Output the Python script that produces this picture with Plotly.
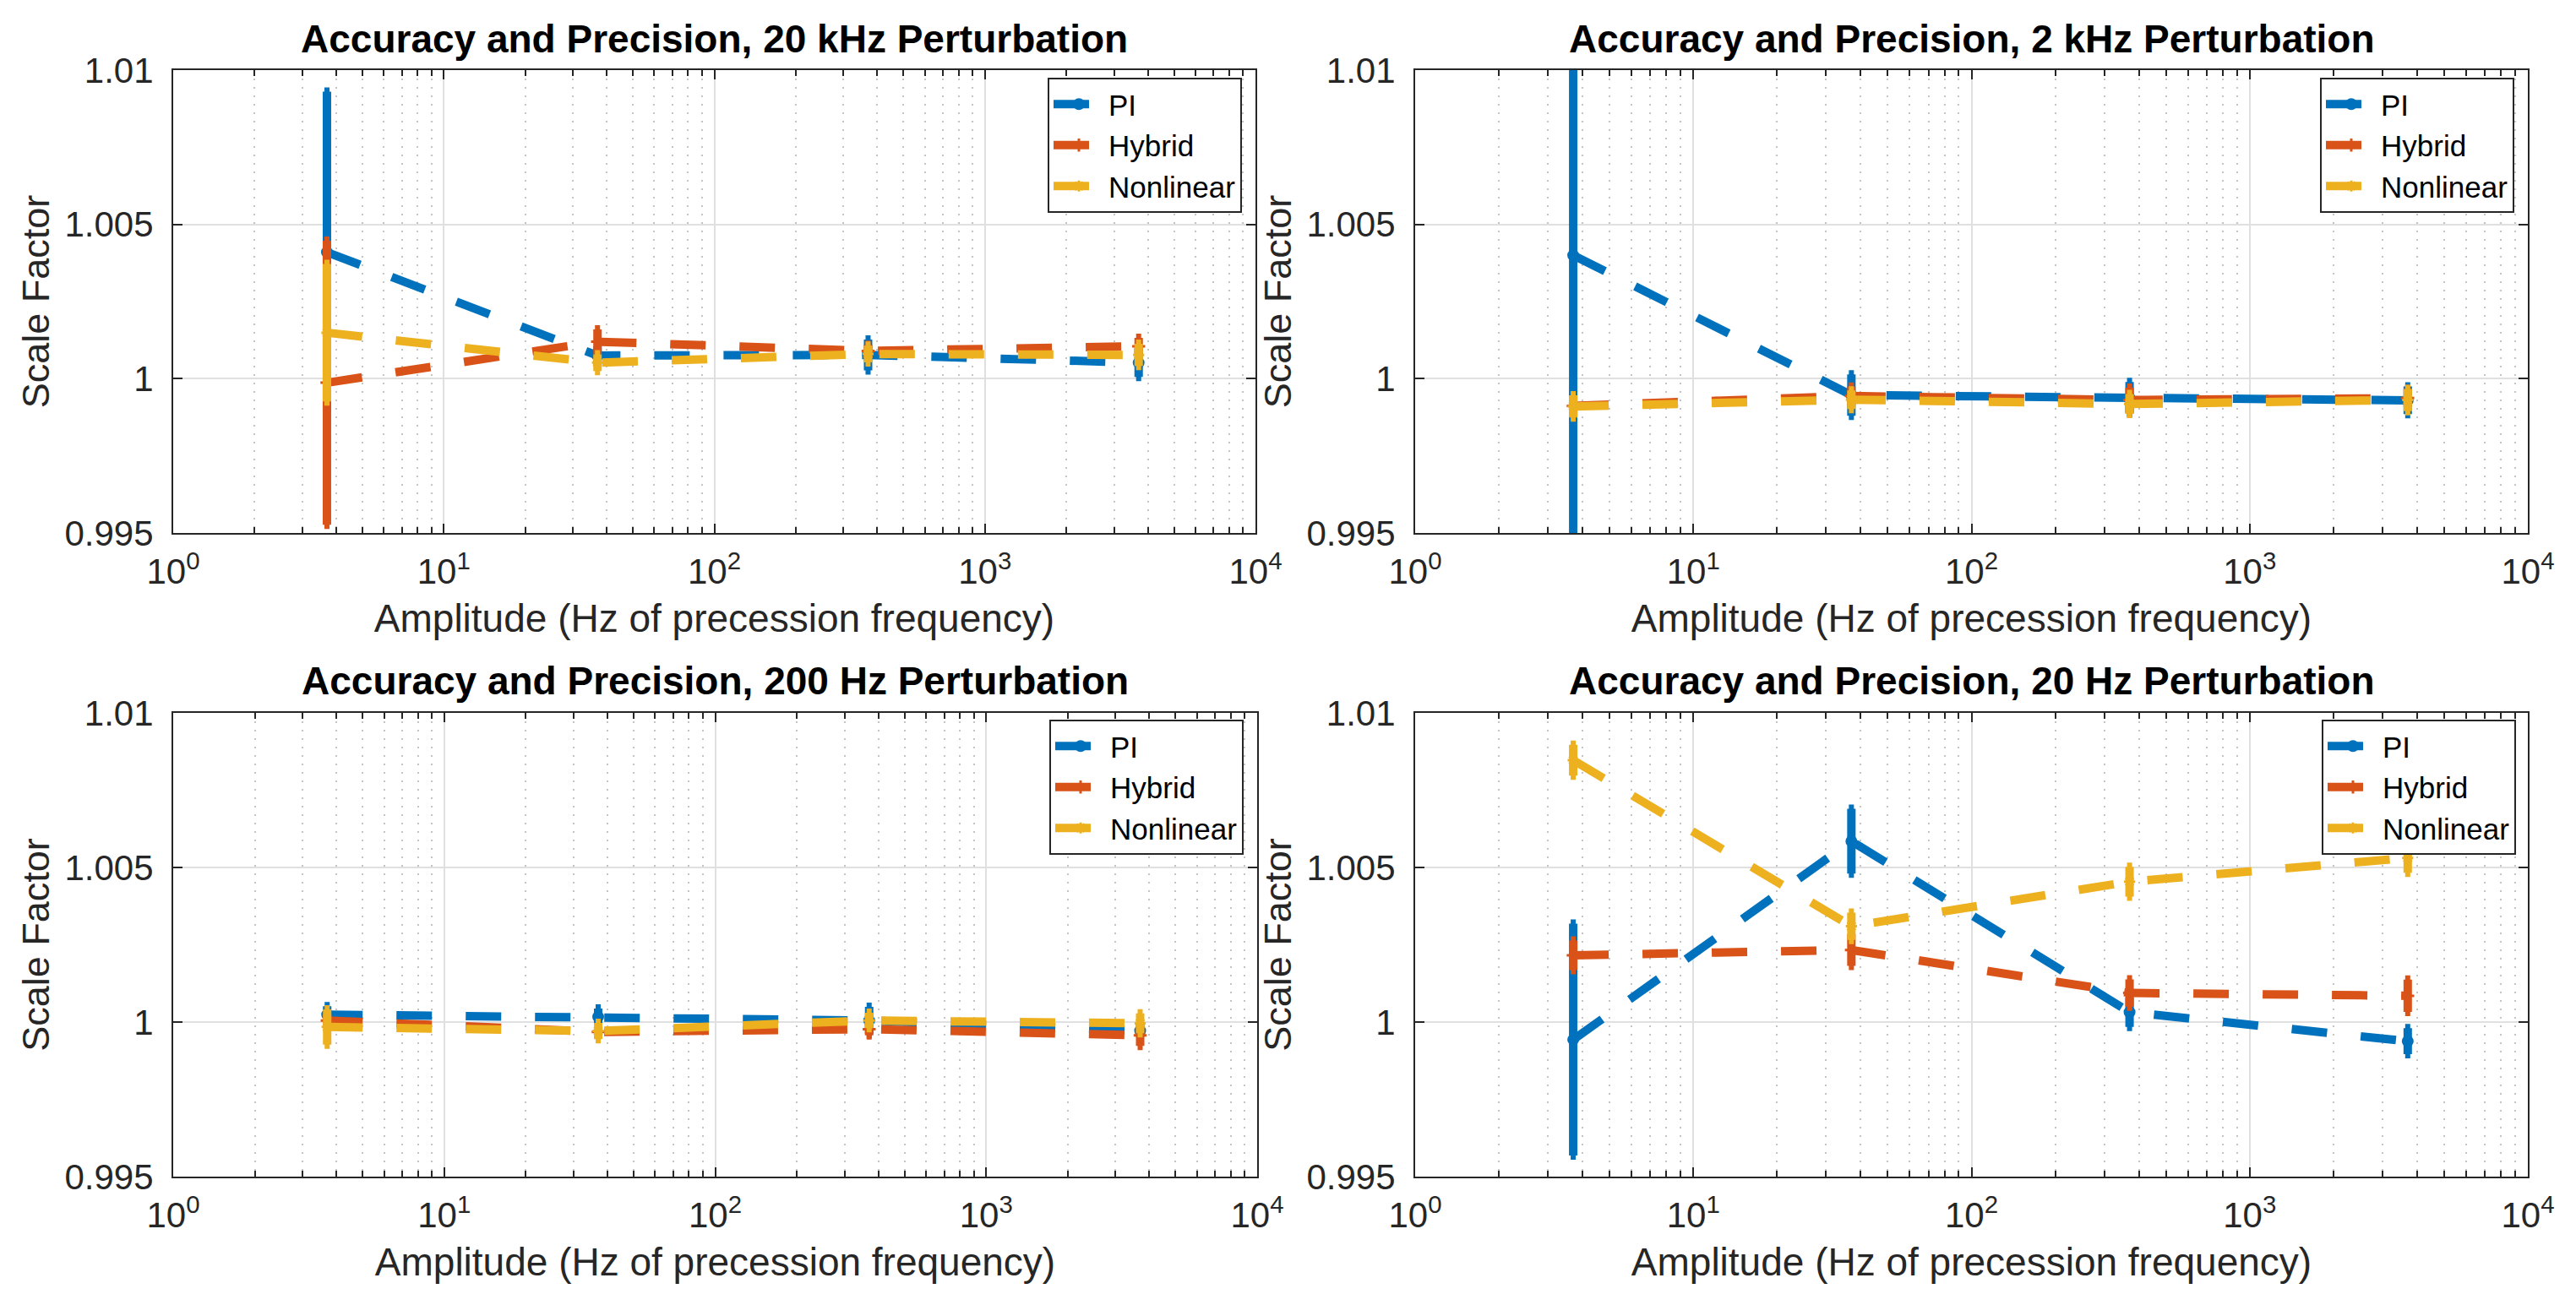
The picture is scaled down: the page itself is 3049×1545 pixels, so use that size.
import plotly.graph_objects as go

# ---------------- data ----------------
amplitude = [3.7, 37, 370, 3700]

panel_titles = [
    "Accuracy and Precision, 20 kHz Perturbation",
    "Accuracy and Precision, 2 kHz Perturbation",
    "Accuracy and Precision, 200 Hz Perturbation",
    "Accuracy and Precision, 20 Hz Perturbation",
]
series_names = ["PI", "Hybrid", "Nonlinear"]

# 20 kHz
pi_20k = [1.0041, 1.00075, 1.00077, 1.00052]
pi_20k_err = [0.0052, 0.0003, 0.0005, 0.00046]
hyb_20k = [0.99987, 1.0012, 1.0009, 1.00105]
hyb_20k_err = [0.0046, 0.0004, 0.0002, 0.00027]
non_20k = [1.00149, 1.00052, 1.0008, 1.00077]
non_20k_err = [0.00223, 0.00027, 0.00027, 0.00036]

# 2 kHz
pi_2k = [1.0040, 0.99947, 0.99938, 0.9993]
pi_2k_err = [0.0095, 0.00067, 0.00051, 0.00045]
hyb_2k = [0.99912, 0.99944, 0.99931, 0.99937]
hyb_2k_err = [0.0003, 0.0003, 0.0004, 0.0003]
non_2k = [0.9991, 0.99932, 0.99918, 0.99931]
non_2k_err = [0.00036, 0.0003, 0.00032, 0.00036]

# 200 Hz
pi_200 = [1.00024, 1.00017, 1.00005, 0.99972]
pi_200_err = [0.00027, 0.00027, 0.00044, 0.0002]
hyb_200 = [1.00005, 0.99968, 0.99977, 0.99957]
hyb_200_err = [0.0002, 0.0002, 0.0002, 0.00034]
non_200 = [0.99984, 0.99971, 1.00005, 0.99996]
non_200_err = [0.00057, 0.00026, 0.00025, 0.00032]

# 20 Hz
pi_20 = [0.99943, 1.00585, 1.00032, 0.99938]
pi_20_err = [0.00375, 0.00105, 0.00048, 0.00042]
hyb_20 = [1.00216, 1.00233, 1.00094, 1.00085]
hyb_20_err = [0.00048, 0.00051, 0.00044, 0.00052]
non_20 = [1.00847, 1.0031, 1.00454, 1.00531]
non_20_err = [0.0005, 0.00044, 0.00048, 0.00048]

y_tickvals = [0.995, 1.0, 1.005, 1.01]
y_ticktext = ["0.995", "1", "1.005", "1.01"]
x_tickvals = [1, 10, 100, 1000, 10000]
x_ticktext = ["10<sup>0</sup>", "10<sup>1</sup>", "10<sup>2</sup>", "10<sup>3</sup>", "10<sup>4</sup>"]
x_minorvals = [m * 10 ** k for k in range(4) for m in range(2, 10)]

panels = [
    [(pi_20k, pi_20k_err), (hyb_20k, hyb_20k_err), (non_20k, non_20k_err)],
    [(pi_2k, pi_2k_err), (hyb_2k, hyb_2k_err), (non_2k, non_2k_err)],
    [(pi_200, pi_200_err), (hyb_200, hyb_200_err), (non_200, non_200_err)],
    [(pi_20, pi_20_err), (hyb_20, hyb_20_err), (non_20, non_20_err)],
]

# ---------------- style ----------------
W, H = 3049, 1545
colors = ["#0072BD", "#D95319", "#EDB120"]
markers = ["circle-open", "cross-thin-open", "asterisk-open"]
FONT = "Liberation Sans, Arial, Helvetica, sans-serif"
AX = "#262626"

# plot area boxes in pixels: (left, right, top, bottom)
boxes = [
    (197, 1478, 75, 623),
    (1667, 2984, 75, 623),
    (197, 1480, 836, 1385),
    (1667, 2984, 836, 1385),
]
legend_pos = [(1462, 84), (2968, 84), (1464, 844), (2970, 844)]
title_y = [38, 38, 798, 798]

fig = go.Figure()
layout = dict(
    width=W, height=H,
    margin=dict(l=0, r=0, t=0, b=0),
    paper_bgcolor="white", plot_bgcolor="white",
    font=dict(family=FONT, color=AX),
    annotations=[],
    showlegend=True,
)

for p, series in enumerate(panels):
    sfx = "" if p == 0 else str(p + 1)
    leg = "legend" if p == 0 else f"legend{p + 1}"
    for s, (vals, errs) in enumerate(series):
        fig.add_trace(go.Scatter(
            x=amplitude, y=vals,
            mode="lines+markers",
            name=series_names[s],
            line=dict(color=colors[s], width=10, dash="42px,40px"),
            marker=dict(symbol=markers[s], size=11, color=colors[s],
                        line=dict(color=colors[s], width=3)),
            error_y=dict(type="data", array=errs, visible=True,
                         color=colors[s], thickness=10, width=3),
            xaxis="x" + sfx, yaxis="y" + sfx,
            legend=leg,
        ))

    l, r, t, b = boxes[p]
    xd = [l / W, r / W]
    yd = [1 - b / H, 1 - t / H]
    common = dict(
        showline=True, linecolor=AX, linewidth=2, mirror="ticks",
        ticks="inside", ticklen=11, tickwidth=2, tickcolor=AX,
        tickfont=dict(family=FONT, size=42, color=AX),
        gridcolor="#e0e0e0", gridwidth=2, zeroline=False,
        automargin=False,
    )
    layout["xaxis" + sfx] = dict(
        common, type="log", domain=xd, range=[0, 4],
        anchor="y" + sfx,
        tickvals=x_tickvals, ticktext=x_ticktext,
        ticklabelstandoff=8,
        minor=dict(tickvals=x_minorvals, ticks="inside", ticklen=7,
                   tickwidth=2, tickcolor=AX, showgrid=True,
                   gridcolor="#c4c4c4", griddash="2px,8px", gridwidth=2),
        title=dict(text="Amplitude (Hz of precession frequency)",
                   font=dict(family=FONT, size=46, color=AX), standoff=16),
    )
    layout["yaxis" + sfx] = dict(
        common, domain=yd, range=[0.995, 1.01],
        anchor="x" + sfx,
        tickvals=y_tickvals, ticktext=y_ticktext,
        ticklabelstandoff=13,
        title=dict(text="Scale Factor",
                   font=dict(family=FONT, size=45, color=AX), standoff=4),
    )
    lx, ly = legend_pos[p]
    layout[leg] = dict(
        x=lx / W, y=1 - ly / H, xanchor="right", yanchor="top",
        xref="paper", yref="paper",
        bgcolor="white", bordercolor=AX, borderwidth=2,
        font=dict(family=FONT, size=35, color="black"),
        tracegroupgap=0, itemwidth=60,
    )
    layout["annotations"].append(dict(
        text="<b>" + panel_titles[p] + "</b>",
        x=(l + r) / 2 / W, y=1 - title_y[p] / H,
        xref="paper", yref="paper", xanchor="center", yanchor="middle",
        showarrow=False, font=dict(family=FONT, size=46, color="black"),
    ))

fig.update_layout(**layout)
fig.write_html("out.html", config={"displayModeBar": False})
